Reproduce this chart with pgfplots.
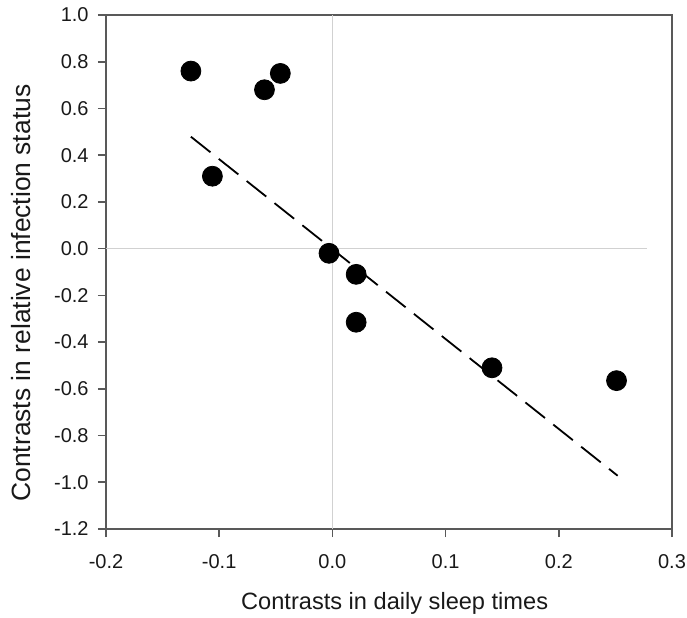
\documentclass[border=0pt]{standalone}
\usepackage{fontspec}
\setmainfont{Liberation Sans}
\usepackage{pgfplots}
\pgfplotsset{compat=1.18}

\begin{document}
\begin{tikzpicture}
\begin{axis}[
    scale only axis,
    width=283bp, height=257bp,
    xmin=-0.2, xmax=0.3, ymin=-1.2, ymax=1.0,
    xtick={-0.2,-0.1,0,0.1,0.2,0.3},
    ytick={-1.2,-1.0,-0.8,-0.6,-0.4,-0.2,0,0.2,0.4,0.6,0.8,1.0},
    xticklabel={\pgfmathprintnumber[fixed,fixed zerofill,precision=1,assume math mode=true]{\tick}},
    yticklabel={\pgfmathprintnumber[fixed,fixed zerofill,precision=1,assume math mode=true]{\tick}},
    tick pos=left, tick align=outside,
    major tick length=4bp,
    axis line style={black!65, line width=1bp},
    every tick/.style={black!65, line width=0.8bp},
    ticklabel style={font=\fontsize{10bp}{12bp}\selectfont, text=black!90},
    yticklabel style={xshift=-1.2bp},
    xticklabel style={yshift=-5bp},
    every axis x label/.style={at={(axis description cs:0.51,-0.145)}, anchor=center,
        font=\fontsize{11.8bp}{14bp}\selectfont},
    every axis y label/.style={at={(axis description cs:-0.15,0.459)}, rotate=90, anchor=center,
        font=\fontsize{13.2bp}{15bp}\selectfont},
    label style={text=black!90},
    xlabel={Contrasts in daily sleep times},
    ylabel={Contrasts in relative infection status},
    clip=false,
]
\coordinate (bl) at (rel axis cs:0,0);
\coordinate (tr) at (rel axis cs:1,1);

% reference lines at zero
\addplot[no marks, black!18, line width=0.8bp] coordinates {(0,-1.2)(0,1.0)};
\addplot[no marks, black!18, line width=0.8bp] coordinates {(-0.2,0)(0.278,0)};

% regression line
\addplot[no marks, black, line width=0.9bp, dash pattern=on 12.5bp off 5.3bp]
    coordinates {(-0.125,0.479)(0.252,-0.972)};

% contrasts
\addplot[only marks, mark=*, mark size=5pt, black] coordinates {
    (-0.125,0.76)
    (-0.060,0.68)
    (-0.046,0.75)
    (-0.106,0.31)
    (-0.003,-0.02)
    (0.021,-0.11)
    (0.021,-0.315)
    (0.141,-0.51)
    (0.251,-0.565)
};
\end{axis}
\pgfresetboundingbox
\path ([xshift=-53bp,yshift=-44.5bp]bl) rectangle ([xshift=7.5bp,yshift=7.5bp]tr);
\end{tikzpicture}
\end{document}
